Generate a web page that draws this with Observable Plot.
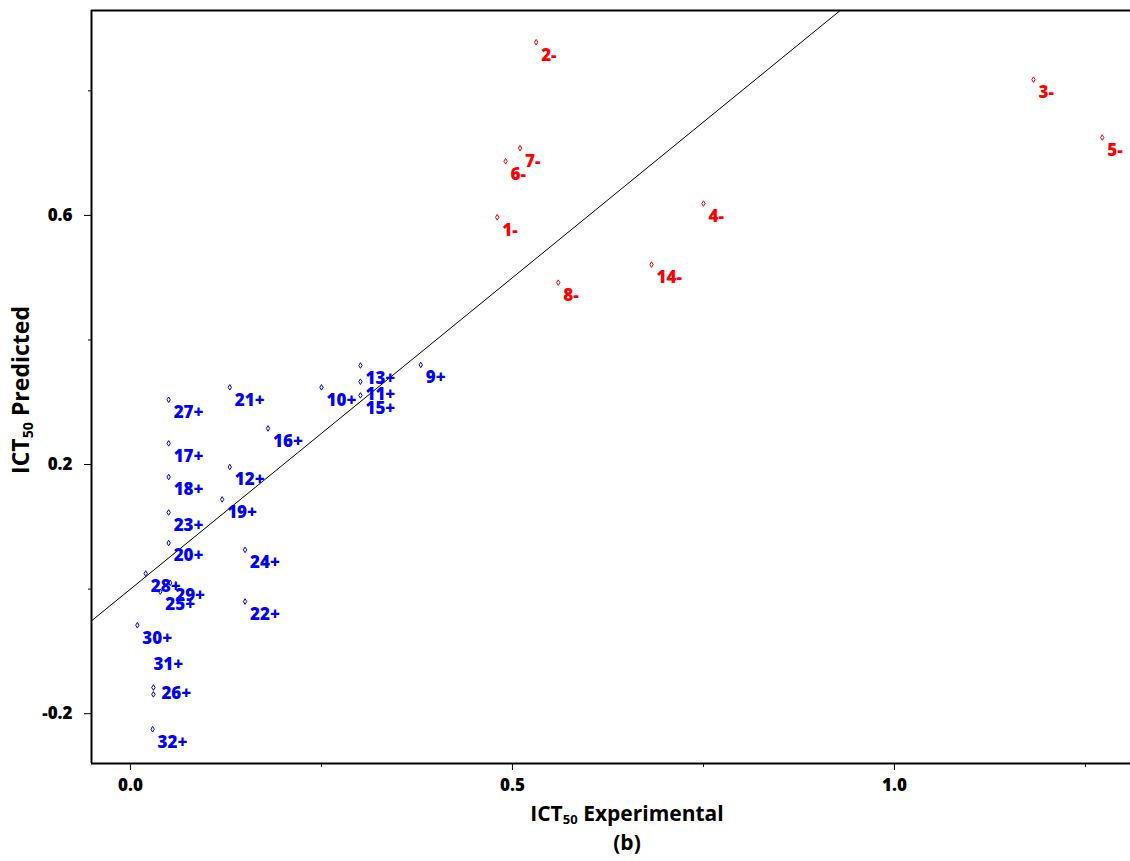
<!DOCTYPE html>
<html><head><meta charset="utf-8">
<script src="https://cdn.jsdelivr.net/npm/d3@7"></script>
<script src="https://cdn.jsdelivr.net/npm/@observablehq/plot@0.6"></script>
<style>
body{margin:0;background:#fff;}
#wrap{position:relative;width:1130px;height:861px;font-family:"Open Sans",sans-serif;font-weight:bold;color:#000;}
#chart svg{display:block;}
.t{position:absolute;white-space:nowrap;font-size:21px;transform:translate(-50%,-50%);line-height:1;}
.t sub{font-size:0.62em;vertical-align:-0.3em;line-height:0;}
#ytitle{font-size:23px;transform:translate(-50%,-50%) rotate(-90deg);}
</style></head>
<body>
<div id="wrap">
<div id="chart"></div>
<div class="t" id="ytitle" style="left:20px;top:390px">ICT<sub>50</sub> Predicted</div>
<div class="t" style="left:627px;top:813px">ICT<sub>50</sub> Experimental</div>
<div class="t" style="left:627px;top:842px">(b)</div>
</div>
<script>
// Compound labels (sign = activity class)
const compounds = ["1-","2-","3-","4-","5-","6-","7-","8-","9+","10+","11+","12+","13+","14-","15+","16+",
  "17+","18+","19+","20+","21+","22+","23+","24+","25+","26+","27+","28+","29+","30+","31+","32+"];
// ICT50 experimental
const experimental = [0.480,0.531,1.182,0.750,1.272,0.491,0.510,0.560,0.380,0.250,0.301,0.130,0.301,0.682,0.301,0.180,
  0.050,0.050,0.120,0.050,0.130,0.150,0.050,0.150,0.039,0.030,0.050,0.020,0.052,0.009,0.030,0.029];
// ICT50 predicted
const predicted = [0.597,0.878,0.818,0.619,0.725,0.687,0.708,0.492,0.360,0.324,0.333,0.196,0.359,0.521,0.311,0.258,
  0.234,0.180,0.144,0.074,0.324,-0.020,0.123,0.063,-0.004,-0.169,0.304,0.025,0.010,-0.058,-0.158,-0.225];

const xTicks = [0, 0.5, 1.0];
const xMinorTicks = [0.25, 0.75, 1.25];
const yTicks = [-0.2, 0.2, 0.6];
const yMinorTicks = [0.0, 0.4, 0.8];
const xDomain = [-0.051, 1.309];
const yDomain = [-0.280, 0.929];

const data = compounds.map((label, i) => ({
  label, x: experimental[i], y: predicted[i],
  activity: label.endsWith("+") ? "active" : "inactive"
}));

// label collision nudges (layout only)
const nudge = {"31+": [0, -23], "26+": [8, -1]};

const narrowDiamond = {
  draw(ctx, size) {
    const s = Math.sqrt(size / Math.PI), w = s * 0.6;
    ctx.moveTo(0, -s); ctx.lineTo(w, 0); ctx.lineTo(0, s); ctx.lineTo(-w, 0); ctx.closePath();
  }
};

const textOpts = {x: "x", y: "y", text: "label", fill: "activity", textAnchor: "start",
  fontSize: 17, fontWeight: 800};

const marks = [
  Plot.ruleX([xDomain[0]], {stroke: "black", strokeWidth: 2}),
  Plot.ruleY([yDomain[0]], {stroke: "black", strokeWidth: 2}),
  Plot.ruleY([yDomain[1]], {stroke: "black", strokeWidth: 2}),
  Plot.line([xDomain[0], yDomain[1]], {x: d => d, y: d => d, stroke: "black", strokeWidth: 1, clip: true}),
  Plot.axisX({ticks: xTicks, tickFormat: d => d.toFixed(1), tickSize: 7, tickPadding: 8,
    fontSize: 17, fontWeight: 800, label: null}),
  Plot.axisX({ticks: xMinorTicks, tickFormat: () => "", tickSize: 4, label: null}),
  Plot.axisY({ticks: yTicks, tickFormat: d => d.toFixed(1), tickSize: 7, tickPadding: 12,
    fontSize: 17, fontWeight: 800, label: null}),
  Plot.axisY({ticks: yMinorTicks, tickFormat: () => "", tickSize: 3, label: null}),
  Plot.dot(data, {x: "x", y: "y", symbol: narrowDiamond, r: 2.8, stroke: "activity", fill: "none", strokeWidth: 1}),
  Plot.text(data.filter(d => !nudge[d.label]), {...textOpts, dx: 5, dy: 13})
];
for (const [lab, [dx, dy]] of Object.entries(nudge)) {
  marks.push(Plot.text(data.filter(d => d.label === lab), {...textOpts, dx, dy}));
}

const chart = Plot.plot({
  width: 1130, height: 800,
  marginLeft: 91, marginRight: 0, marginTop: 10, marginBottom: 37,
  x: {domain: xDomain},
  y: {domain: yDomain},
  color: {domain: ["active", "inactive"], range: ["#0000ff", "#ff0000"]},
  style: {fontFamily: "'Open Sans', sans-serif", fontWeight: "bold", background: "white", color: "black", overflow: "visible"},
  marks
});
document.getElementById("chart").appendChild(chart);
</script>
</body></html>
